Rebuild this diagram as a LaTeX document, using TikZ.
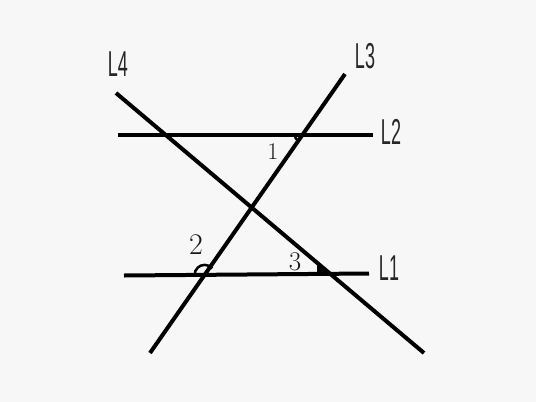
\documentclass[tikz,border=0pt]{standalone}
\usepackage{fontspec}
\newfontfamily\lblfont{Liberation Sans}
\usetikzlibrary{calc}
\begin{document}
\begin{tikzpicture}[x=1pt,y=-1pt,
  ln/.style={line width=4pt,black},
  mk/.style={line width=2.5pt,black},
  lname/.style={inner sep=0pt,text=black!85,font=\lblfont\fontsize{36}{36}\selectfont},
  num/.style={inner sep=0pt,text=black!90,font=\fontsize{30}{30}\selectfont}]
\fill[black!3] (0,0) rectangle (536,402);
\useasboundingbox (0,0) rectangle (536,402);
% line end points
\coordinate (l1a) at (124,275.5); \coordinate (l1b) at (369,273.5);
\coordinate (l2a) at (118,134.5); \coordinate (l2b) at (373,134.5);
\coordinate (l3a) at (150,353);   \coordinate (l3b) at (345,74);
\coordinate (l4a) at (116,93);    \coordinate (l4b) at (424,353);
\draw[ln] (l1a) -- (l1b);
\draw[ln] (l2a) -- (l2b);
\draw[ln] (l3a) -- (l3b);
\draw[ln] (l4a) -- (l4b);
% intersections
\coordinate (p1) at (intersection of l2a--l2b and l3a--l3b);
\coordinate (p2) at (intersection of l1a--l1b and l3a--l3b);
\coordinate (p3) at (intersection of l1a--l1b and l4a--l4b);
% angle marks (y axis points down: angles are mirrored)
\draw[mk] ($(p1)+(-8,0)$) arc[start angle=180,end angle=124,radius=8];
\draw[mk] ($(p2)+(-10,0)$) arc[start angle=180,end angle=320,radius=10];
\coordinate (m3a) at ($(p3)+(-12,0)$);
\coordinate (m3b) at ($(p3)+(-12,-10.5)$);
\fill[black] (m3a) -- (m3b) -- ($(p3)+(-6,-4)$) -- ($(p3)+(-4,0)$) -- cycle;
\draw[line width=2pt] (m3a) -- (m3b);
% labels
\node[lname] (n4) at (118,64) {\scalebox{0.5}[1]{L4}};
\node[lname] (n3) at (365,56) {\scalebox{0.5}[1]{L3}};
\node[lname] (n2) at (391,132) {\scalebox{0.5}[1]{L2}};
\node[lname] (n1) at (389,268) {\scalebox{0.5}[1]{L1}};
\node[num,font=\fontsize{24}{24}\selectfont] (a1) at (273,152) {1};
\node[num] (a2) at (196,245) {2};
\node[num,font=\fontsize{27}{27}\selectfont] (a3) at (295,262) {3};
\end{tikzpicture}
\end{document}
